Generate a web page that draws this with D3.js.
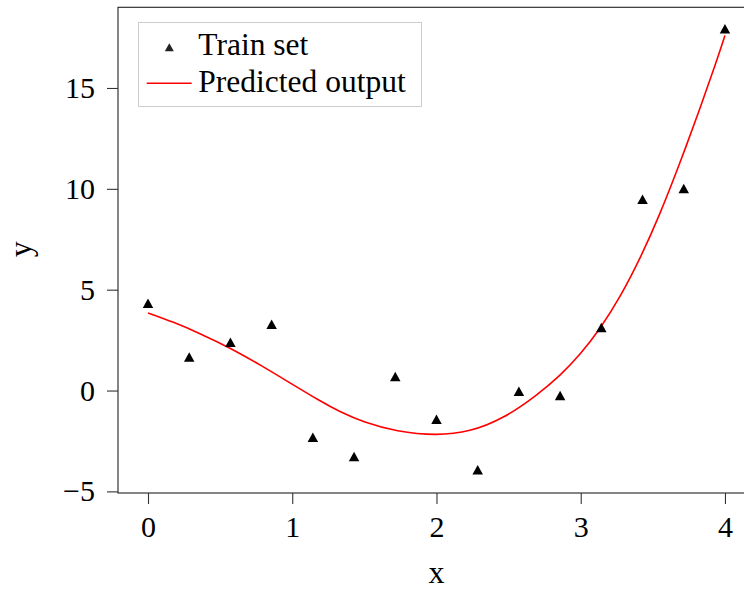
<!DOCTYPE html>
<html>
<head>
<meta charset="utf-8">
<script src="https://cdn.jsdelivr.net/npm/d3@7"></script>
<style>
  html, body { margin: 0; padding: 0; background: #fff; }
  svg { display: block; }
  text { font-family: "Liberation Serif", "Times New Roman", serif; fill: #000; }
</style>
</head>
<body>
<svg id="chart" width="744" height="589"></svg>
<script>
// Training samples
const trainX = [0, 0.2857, 0.5714, 0.8571, 1.1429, 1.4286, 1.7143, 2.0, 2.2857, 2.5714, 2.8571, 3.1429, 3.4286, 3.7143, 4.0];
const trainY = [4.33, 1.66, 2.39, 3.29, -2.31, -3.27, 0.70, -1.42, -3.93, -0.03, -0.24, 3.12, 9.48, 10.02, 17.94];

// Model prediction sampled along x
const predX = [0.0, 0.175, 0.36, 0.568, 0.776, 0.984, 1.192, 1.331, 1.493, 1.724, 2.0, 2.232, 2.463, 2.695, 2.856, 2.995, 3.133, 3.272, 3.41, 3.549, 3.688, 3.827, 3.942, 4.0];
const predY = [3.85, 3.40, 2.83, 2.12, 1.28, 0.38, -0.52, -1.06, -1.57, -2.04, -2.24, -2.05, -1.40, -0.24, 0.73, 1.77, 3.04, 4.61, 6.51, 8.73, 11.28, 13.98, 16.33, 17.60];

// Axis ticks
const xTicks = [0, 1, 2, 3, 4];
const yTicks = [-5, 0, 5, 10, 15];
const legendLabels = ["Train set", "Predicted output"];

const svg = d3.select("#chart");
const plotLeft = 118, plotTop = 7.3, plotBottom = 493, plotRight = 760;

const x = d3.scaleLinear().domain([-0.208, 4.132]).range([plotLeft, 744]);
const y = d3.scaleLinear().domain([-5.08, 19.0]).range([plotBottom, plotTop]);

// Frame
svg.append("rect")
  .attr("x", plotLeft).attr("y", plotTop)
  .attr("width", plotRight - plotLeft).attr("height", plotBottom - plotTop)
  .attr("fill", "none").attr("stroke", "#222").attr("stroke-width", 1.1);

// Axes
const fmt = d => (d < 0 ? "\u2212" + Math.abs(d) : String(d));
const xAxis = svg.append("g").attr("transform", `translate(0,${plotBottom})`)
  .call(d3.axisBottom(x).tickValues(xTicks).tickSize(11).tickPadding(12).tickFormat(fmt));
const yAxis = svg.append("g").attr("transform", `translate(${plotLeft},0)`)
  .call(d3.axisLeft(y).tickValues(yTicks).tickSize(11).tickPadding(12).tickFormat(fmt));
[xAxis, yAxis].forEach(g => {
  g.select(".domain").remove();
  g.selectAll(".tick line").attr("stroke", "#333").attr("stroke-width", 1.1);
  g.selectAll(".tick text").style("font-size", "30px").style("font-family", "'Liberation Serif', serif").attr("fill", "#000");
});

// Axis titles
svg.append("text").attr("x", x(2)).attr("y", 583)
  .attr("text-anchor", "middle").style("font-size", "32px").text("x");
svg.append("text").attr("transform", `translate(31,${y(7)}) rotate(-90)`)
  .attr("text-anchor", "middle").style("font-size", "32px").text("y");

// Prediction curve (B-spline through the sampled prediction)
const pred = predX.map((v, i) => [v, predY[i]]);
svg.append("path").datum(pred)
  .attr("fill", "none").attr("stroke", "#ff0000").attr("stroke-width", 1.6)
  .attr("d", d3.line().x(d => x(d[0])).y(d => y(d[1])).curve(d3.curveBasis));

// Triangle marker centred on its bounding box
const tri = (w, h) => `M0,${-h / 2}L${w / 2},${h / 2}L${-w / 2},${h / 2}Z`;
svg.append("g").selectAll("path").data(trainX.map((v, i) => [v, trainY[i]]))
  .join("path")
  .attr("d", tri(10.5, 9.5))
  .attr("transform", d => `translate(${x(d[0])},${y(d[1])})`)
  .attr("fill", "#000");

// Legend
const lg = svg.append("g");
lg.append("rect").attr("x", 138.5).attr("y", 22.5).attr("width", 283).attr("height", 84)
  .attr("fill", "#fff").attr("stroke", "#ccc").attr("stroke-width", 1);
lg.append("path").attr("d", tri(9, 8)).attr("transform", "translate(169.3,47.3)").attr("fill", "#222");
lg.append("line").attr("x1", 146.7).attr("x2", 191.7).attr("y1", 83.3).attr("y2", 83.3)
  .attr("stroke", "#ff0000").attr("stroke-width", 1.6);
lg.selectAll("text.lbl").data(legendLabels).join("text").attr("class", "lbl")
  .attr("x", 198.3).attr("y", (d, i) => 55 + i * 37)
  .style("font-size", "31.5px").text(d => d);
</script>
</body>
</html>
